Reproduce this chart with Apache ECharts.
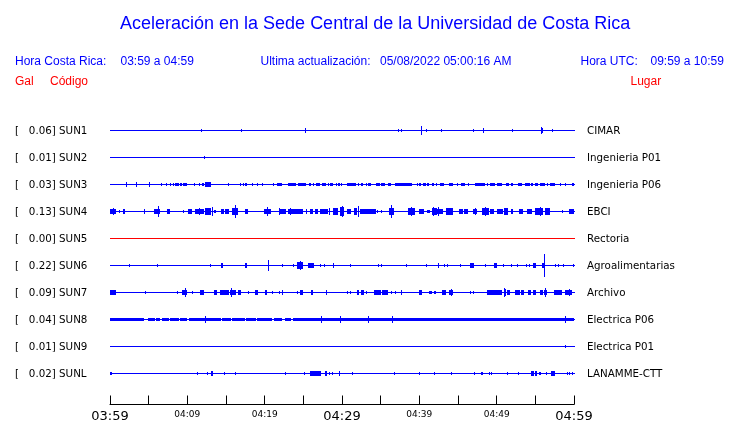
<!DOCTYPE html>
<html>
<head>
<meta charset="utf-8">
<script src="https://cdn.jsdelivr.net/npm/echarts@6/dist/echarts.min.js"></script>
<style>html,body{margin:0;padding:0;background:#fff}#c{width:740px;height:423px}</style>
</head>
<body>
<div id="c"></div>
<script>
// ---- data ----
const CODES = ['SUN1','SUN2','SUN3','SUN4','SUN5','SUN6','SUN7','SUN8','SUN9','SUNL'];
const GAL = ['0.06','0.01','0.03','0.13','0.00','0.22','0.09','0.04','0.01','0.02'];
const PLACES = ['CIMAR','Ingenieria P01','Ingenieria P06','EBCI','Rectoria','Agroalimentarias','Archivo','Electrica P06','Electrica P01','LANAMME-CTT'];
const TICK_LABELS = ['03:59','04:09','04:19','04:29','04:39','04:49','04:59'];
const SPAN_MIN = [0, 60];           // minutes after 03:59
// events: [startMinute, endMinute, amplitude]
const SUN1 = [[11.8,11.8,1.5],[16.9,16.9,1.5],[25.2,25.4,3],[37.2,37.3,2],[37.6,37.7,2],[40.2,40.2,4.5],[40.8,40.8,1],[42.8,42.8,1.5],[46.9,46.9,1],[48.2,48.4,3],[52.0,52.0,1],[55.7,55.7,4],[55.8,55.9,2.5],[57.2,57.3,2]];
const SUN2 = [[12.2,12.2,1]];
const SUN3 = [[2.1,2.1,2.5],[3.4,3.4,2.5],[5.1,5.1,2.5],[6.6,6.6,2],[7.3,7.3,1.5],[7.8,7.8,2],[8.2,8.2,2],[8.4,8.9,2],[9.1,9.3,2],[9.5,10.0,2],[10.8,10.8,2],[11.5,11.5,2],[11.9,12.1,2],[12.3,13.1,2.5],[15.3,15.3,1.5],[16.8,16.8,2],[17.2,17.2,2],[17.4,17.7,2],[18.3,18.3,2],[19.0,19.0,2],[19.6,19.6,2],
[21.1,21.1,2],[21.6,22.2,2],[23.0,24.1,2],[24.3,25.4,2],[25.7,26.0,2],[26.2,26.4,2],[26.6,27.1,2],[27.4,27.9,2],[28.2,28.2,2],[28.4,28.8,2],[29.2,29.2,2],[29.5,29.7,2],[29.9,29.9,2],[30.6,31.8,2],[32.1,32.1,2],[32.4,32.7,2],[33.1,33.1,1.5],[33.4,33.7,2],[34.4,34.9,2],[35.1,35.5,2],[36.0,36.4,2],[36.9,39.0,2],[39.7,39.7,2],[40.0,40.2,2],
[40.5,40.8,2],[41.0,41.3,2],[41.6,41.6,2],[41.8,41.8,2],[42.2,42.2,2],[42.7,43.2,2],[43.9,44.4,2],[44.9,44.9,2],[45.4,45.9,2],[46.3,46.3,2],[47.2,48.5,2],[48.8,48.8,2],[49.2,49.8,2],[50.1,50.7,2],[51.2,51.6,2],[51.8,52.1,2],[52.8,53.3,2],[53.7,54.3,2],[54.5,54.7,2],[55.0,55.4,2],[55.6,56.2,2],[56.5,56.5,2],[56.9,57.5,2],[58.2,58.2,2],[58.8,59.0,2],[59.7,60,2]];
const SUN4 = [[0,0.8,3],[0.4,0.4,4],[1.1,1.1,2],[1.7,1.9,2.5],[4.4,4.4,2.5],[5.7,6.5,3],[6.2,6.2,6],[7.4,7.7,3],[9.5,9.5,1],[10.1,10.6,2.5],[11.0,12.1,3],[11.5,11.5,4],[12.3,13.1,4],[13.2,13.2,5],[13.4,13.7,2],[14.4,14.7,2.5],[14.9,15.4,2.5],[15.8,16.6,4],[16.2,16.2,7.5],[17.4,17.8,3],
[19.9,20.8,3],[20.3,20.3,5.5],[21.8,22.8,3],[21.9,21.9,4],[23.0,25.0,2.5],[23.3,23.3,3.5],[25.3,25.5,2.5],[25.8,26.2,2.5],[26.5,26.9,3],[27.2,28.2,3],[28.3,28.3,4],[28.9,29.5,3.5],[29.7,30.3,4.5],[30.0,30.0,6],[30.6,31.1,3],[31.5,31.9,3.5],[32.1,32.1,6.5],[32.3,32.8,3],[32.8,34.4,2.5],[34.5,34.5,1.5],[35.1,35.1,1.5],[36.1,36.7,3.5],[36.4,36.4,7],[38.5,39.4,3.5],[38.9,38.9,5],[39.9,40.6,3],
[41.0,41.4,2],[41.7,42.3,3.5],[41.8,41.8,4.5],[42.4,42.4,5],[42.3,43.1,2.5],[43.5,44.4,3.5],[45.1,45.7,3],[45.8,46.3,3],[47.0,47.5,3],[47.2,47.2,4],[48.1,49.0,3.5],[48.5,48.5,4.5],[49.2,49.7,3],[50.0,50.8,3],[51.0,51.5,3.5],[51.8,52.1,3],[52.9,53.4,3],[53.9,54.6,3],[54.9,56.0,3.5],[55.6,55.6,4.5],[56.2,56.9,3.5],[58.5,58.5,1.5],[59.4,60,3]];
const SUN5 = [];
const SUN6 = [[2.4,2.4,1.5],[6.1,6.1,2],[12.9,12.9,2],[14.4,14.6,2.5],[17.5,17.7,2.5],[20.4,20.4,6],[22.3,22.3,1.5],[23.7,23.7,2],[24.2,25.0,4],[24.6,24.6,5],[25.6,26.4,2.5],[27.1,27.1,1],[27.7,27.7,1],[28.8,28.8,2.5],[31.0,31.0,2],[34.7,34.7,2],[35.1,35.1,2],[38.3,38.3,1.5],
[40.8,40.8,1.5],[42.4,42.6,3],[43.2,43.2,1.5],[43.6,43.6,2],[45.3,45.3,1.5],[46.5,47.1,3],[48.5,48.5,1.5],[49.7,50.1,2.5],[50.8,50.8,2],[51.9,51.9,1.5],[52.6,52.6,2],[53.8,53.8,1.5],[54.2,54.2,1.5],[54.7,55.1,2.5],[55.9,56.3,3],[56.1,56.1,12.5],[57.5,57.5,1.5],[57.9,57.9,1.5],[58.6,58.6,1.5],[59.9,59.9,1.5]];
const SUN7 = [[0,0.8,2.5],[4.5,4.5,2],[8.6,8.6,2],[9.3,10.0,3],[9.7,9.7,5],[10.6,10.6,1.5],[11.7,12.2,2.5],[13.5,13.9,2.5],[14.2,15.4,3],[15.5,16.3,3],[15.6,15.6,5],[16.5,17.0,2.5],[17.9,17.9,1.5],[18.8,19.2,3],[20.0,20.3,2.5],[20.9,20.9,2],[21.8,21.8,1.5],[22.3,22.3,2.5],[24.2,24.2,2],[24.6,24.9,2.5],[26.0,26.2,2.5],[27.9,28.1,3],
[30.6,30.6,1.5],[31.0,31.0,1],[31.9,32.2,2.5],[32.5,32.8,2.5],[33.1,33.1,1],[34.1,35.0,2.5],[35.2,35.9,2.5],[36.3,36.3,1],[36.9,36.9,2],[37.6,37.8,2.5],[40.0,40.3,2.5],[41.3,41.6,2],[41.9,42.1,2],[42.9,43.5,2.5],[43.8,44.4,3],[44.1,44.1,3.5],[46.6,46.6,2],[46.9,46.9,1.5],
[48.8,50.7,3],[50.9,51.2,3.5],[51.0,51.0,4.5],[51.3,51.7,2.5],[52.4,53.0,2.5],[53.1,53.5,2.5],[54.1,54.5,2.5],[54.7,55.1,2.5],[55.6,56.0,2.5],[56.1,56.5,3],[56.3,56.3,4.5],[57.4,58.5,2.5],[58.9,59.7,3],[59.4,59.4,3.5]];
const SUN8 = [[0,4.4,2],[4.9,5.8,2],[5.95,6.5,2],[6.7,7.6,2],[7.75,8.9,2],[9.1,10.0,2],[10.25,14.4,2],[14.5,15.65,2],[15.8,17.45,2],[17.65,18.85,2],[19.0,21.0,2],[21.2,22.3,2],[22.6,23.45,2],[23.7,60,2],
[12.3,12.3,4],[27.3,27.3,4],[29.8,29.8,3.5],[33.3,33.3,3.5],[36.5,36.5,3.5],[58.8,58.8,3.5]];
const SUN9 = [[58.8,58.8,1]];
const SUNL = [[0,0.3,2],[11.2,11.2,2],[12.5,12.5,1],[13.0,13.3,2.5],[14.8,14.8,1.5],[16.1,16.1,1],[22.6,22.6,1.5],[25.1,25.1,1],[25.9,27.3,2.5],[27.8,28.1,2.5],[28.3,28.4,2],[28.7,28.7,1],[29.6,29.6,2.5],[31.3,31.3,2],[36.7,36.7,2],[39.9,39.9,2],
[41.9,42.0,2],[44.1,44.1,2],[47.1,47.1,2],[48.0,48.2,1.5],[49.0,49.0,2],[49.3,49.3,2],[51.4,51.4,1],[52.7,52.7,2],[54.5,54.8,2.5],[55.0,55.2,2.5],[55.5,55.7,2],[56.4,56.4,2],[57.0,57.5,2.5],[59.1,59.1,2],[59.4,59.4,1.5],[59.8,59.8,1.5]];
const EVENTS = [SUN1, SUN2, SUN3, SUN4, SUN5, SUN6, SUN7, SUN8, SUN9, SUNL];

// ---- styles ----
const BLUE = '#0000ff', RED = '#ff0000';
const TRACE_COLORS = CODES.map((c, i) => i === 4 ? RED : BLUE);
const AMP_SCALE = 1 / 30;   // amplitude unit as a fraction of the row spacing
const SANS = 'Liberation Sans';
const DJ = 'DejaVu Sans';

const seriesData = [];
EVENTS.forEach((evs, row) => {
  seriesData.push([SPAN_MIN[0], SPAN_MIN[1], row, 0]);
  evs.forEach(e => seriesData.push([e[0], e[1], row, e[2]]));
});

const hdr = (text, x, y, fill) => ({type: 'text', x: x, y: y,
  style: {text: text, fill: fill, fontSize: 12, fontFamily: SANS, verticalAlign: 'middle'}});

const chart = echarts.init(document.getElementById('c'), null, {renderer: 'canvas'});
chart.setOption({
  animation: false,
  backgroundColor: '#fff',
  title: {
    text: 'Aceleración en la Sede Central de la Universidad de Costa Rica',
    left: 115, top: 10,
    textStyle: {color: BLUE, fontSize: 18, fontWeight: 'normal', fontFamily: SANS}
  },
  grid: [
    {left: 110, right: 166, top: 117.5, height: 270},
    {left: 110, right: 166, bottom: 14, height: 20}
  ],
  xAxis: [
    {gridIndex: 0, type: 'value', min: SPAN_MIN[0], max: SPAN_MIN[1], show: false},
    {gridIndex: 1, type: 'value', min: SPAN_MIN[0], max: SPAN_MIN[1], interval: 5,
     axisLine: {lineStyle: {color: '#000', width: 1}},
     axisTick: {inside: true, length: 9, lineStyle: {color: '#000'}},
     splitLine: {show: false},
     axisLabel: {
       interval: 0, margin: 5, showMinLabel: true, showMaxLabel: true,
       formatter: v => {
         if (v % 10 !== 0) return '';
         const k = v / 10;
         return (k % 3 === 0) ? '{b|' + TICK_LABELS[k] + '}' : '{s|' + TICK_LABELS[k] + '}';
       },
       rich: {
         b: {fontSize: 13, lineHeight: 14, fontFamily: DJ, color: '#000'},
         s: {fontSize: 9, lineHeight: 10, fontFamily: DJ, color: '#000'}
       }
     }}
  ],
  yAxis: [
    {gridIndex: 0, type: 'category', data: CODES, inverse: true, position: 'left',
     axisLine: {show: false}, axisTick: {show: false}, splitLine: {show: false},
     axisLabel: {margin: 95, align: 'left', color: '#000', fontSize: 10.3, fontFamily: DJ,
       formatter: (v, i) => '[   ' + GAL[i] + '] ' + CODES[i]}},
    {gridIndex: 0, type: 'category', data: CODES, inverse: true, position: 'right',
     axisLine: {show: false}, axisTick: {show: false}, splitLine: {show: false},
     axisLabel: {margin: 13, align: 'left', color: '#000', fontSize: 10.3, fontFamily: DJ,
       formatter: (v, i) => PLACES[i]}},
    {gridIndex: 1, type: 'value', show: false}
  ],
  graphic: [
    hdr('Hora Costa Rica:', 15, 61.5, BLUE),
    hdr('03:59 a 04:59', 120.5, 61.5, BLUE),
    hdr('Ultima actualización:', 260.5, 61.5, BLUE),
    hdr('05/08/2022 05:00:16 AM', 380, 61.5, BLUE),
    hdr('Hora UTC:', 580.5, 61.5, BLUE),
    hdr('09:59 a 10:59', 650.5, 61.5, BLUE),
    hdr('Gal', 15, 81.5, RED),
    hdr('Código', 50, 81.5, RED),
    hdr('Lugar', 630.5, 81.5, RED)
  ],
  series: [{
    type: 'custom',
    xAxisIndex: 0, yAxisIndex: 0,
    encode: {x: [0, 1], y: 2},
    data: seriesData,
    clip: false,
    renderItem: (params, api) => {
      const t0 = api.value(0), t1 = api.value(1), row = api.value(2), amp = api.value(3);
      const p0 = api.coord([t0, row]);
      const p1 = api.coord([t1, row]);
      const band = api.size([0, 1])[1];
      const color = TRACE_COLORS[row];
      const yc = Math.floor(p0[1] - 1);
      const x = Math.round(p0[0]);
      if (amp === 0) {
        return {type: 'rect', shape: {x: x, y: yc, width: Math.round(p1[0]) - x + 1, height: 1},
                style: {fill: color}};
      }
      const h = amp * AMP_SCALE * band;
      const k = Math.max(1, Math.round(h - 0.5));
      const w = Math.max(1, Math.round(p1[0]) - x);
      return {type: 'rect', shape: {x: x, y: yc - k, width: w, height: 2 * k + 1}, style: {fill: color}};
    }
  }]
});
</script>
</body>
</html>
